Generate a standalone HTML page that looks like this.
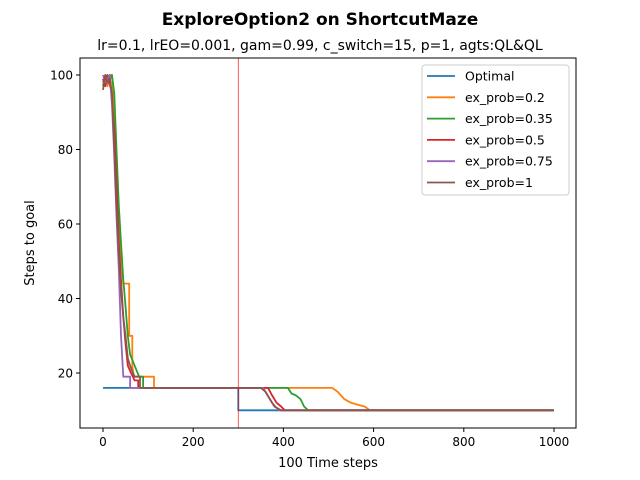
<!DOCTYPE html>
<html><head><meta charset="utf-8"><style>
body{margin:0;background:#fff}
svg{display:block;font-family:"DejaVu Sans","Liberation Sans",sans-serif}
</style></head><body>
<svg id="chart" width="640" height="480" viewBox="0 0 640 480">
<rect width="640" height="480" fill="#fff"/>
<text x="320" y="25" text-anchor="middle" font-size="17" font-weight="bold">ExploreOption2 on ShortcutMaze</text>
<text x="320" y="50" text-anchor="middle" font-size="14">lr=0.1, lrEO=0.001, gam=0.99, c_switch=15, p=1, agts:QL&amp;QL</text>
<g id="plot"></g>
<text x="328" y="467" text-anchor="middle" font-size="13">100 Time steps</text>
<text transform="translate(34,243) rotate(-90)" text-anchor="middle" font-size="13">Steps to goal</text>
</svg>
<script>
const xTicks=[0,200,400,600,800,1000];
const yTicks=[20,40,60,80,100];
const seriesNames=["Optimal","ex_prob=0.2","ex_prob=0.35","ex_prob=0.5","ex_prob=0.75","ex_prob=1"];
const seriesColors=["#1f77b4","#ff7f0e","#2ca02c","#d62728","#9467bd","#8c564b"];
const optimalX=[0,300,300,1000];
const optimalY=[16,16,10,10];
const p02X=[0,5,10,15,20,25,30,35,40,45,58,58,65,65,68,113,113,508,520,535,550,565,580,592,1000];
const p02Y=[98,100,97,100,100,90,75,62,52,44,44,30,30,22,19,19,16,16,15,13,12,11.5,11,10,10];
const p035X=[0,5,12,20,25,30,35,40,45,50,55,60,70,80,89,89,410,418,428,438,446,455,1000];
const p035Y=[97,100,98,100,95,80,65,55,45,38,30,25,22,19,19,16,16,14.5,14,13,11,10,10];
const p05X=[0,5,10,18,25,30,35,40,45,50,55,62,70,78,78,366,375,385,395,403,1000];
const p05Y=[99,97,100,96,85,70,55,45,35,28,22,20,18,18,16,16,14,12,11,10,10];
const p075X=[0,5,10,15,20,25,30,35,40,45,50,60,60,355,365,375,382,390,1000];
const p075Y=[100,98,99,100,92,78,62,48,30,19,19,19,16,16,14,12,11,10,10];
const p1X=[0,5,10,15,20,25,30,35,40,45,50,55,60,70,82,82,350,360,370,380,395,1000];
const p1Y=[96,100,98,99,95,80,65,52,42,35,30,24,22,19,19,16,16,15,13,11,10,10];
const allX=[optimalX,p02X,p035X,p05X,p075X,p1X];
const allY=[optimalY,p02Y,p035Y,p05Y,p075Y,p1Y];
const vLineX=300;

const L=80,R=576,T=58,B=428;
const sx=v=>103+v*0.451;
const sy=v=>75+(100-v)*3.725;
const NS="http://www.w3.org/2000/svg";
const g=document.getElementById('plot');
function mk(t,a){const e=document.createElementNS(NS,t);for(const k in a)e.setAttribute(k,a[k]);return e;}

allX.forEach((xs,i)=>{
  const pts=xs.map((x,j)=>sx(x).toFixed(1)+","+sy(allY[i][j]).toFixed(1)).join(" ");
  const pl=mk('polyline',{points:pts,fill:"none",stroke:seriesColors[i],"stroke-width":1.8,"stroke-linejoin":"round"});
  
  
  g.appendChild(pl);
});
const vl=mk('line',{x1:sx(vLineX),x2:sx(vLineX),y1:T,y2:B,stroke:"#ff0000","stroke-width":0.8,opacity:0.8});


g.appendChild(vl);
const fr=mk('rect',{x:L,y:T,width:R-L,height:B-T,fill:"none",stroke:"#000","stroke-width":1});


g.appendChild(fr);
xTicks.forEach(v=>{
  const x=sx(v);
  const tk=mk('line',{x1:x,x2:x,y1:B,y2:B+4,stroke:"#000"});
  
  
  g.appendChild(tk);
  const t=mk('text',{x:x,y:B+18,"text-anchor":"middle","font-size":12});
  t.textContent=v;
  
  
  g.appendChild(t);
});
yTicks.forEach(v=>{
  const y=sy(v);
  const tk=mk('line',{x1:L-4,x2:L,y1:y,y2:y,stroke:"#000"});
  
  
  g.appendChild(tk);
  const t=mk('text',{x:L-7,y:y+4.5,"text-anchor":"end","font-size":12});
  t.textContent=v;
  
  
  g.appendChild(t);
});
const lg=mk('g',{});


g.appendChild(lg);
lg.appendChild(mk('rect',{x:422,y:65,width:147,height:130,rx:3,fill:"#fff",stroke:"#ccc"}));
seriesNames.forEach((n,i)=>{
  const y=76+i*21.3;
  const e=mk('g',{});
  
  
  e.appendChild(mk('line',{x1:427,x2:455,y1:y,y2:y,stroke:seriesColors[i],"stroke-width":1.8}));
  const t=mk('text',{x:465,y:y+4.5,"font-size":12.5});
  t.textContent=n;
  e.appendChild(t);
  lg.appendChild(e);
});
</script>
</body></html>
